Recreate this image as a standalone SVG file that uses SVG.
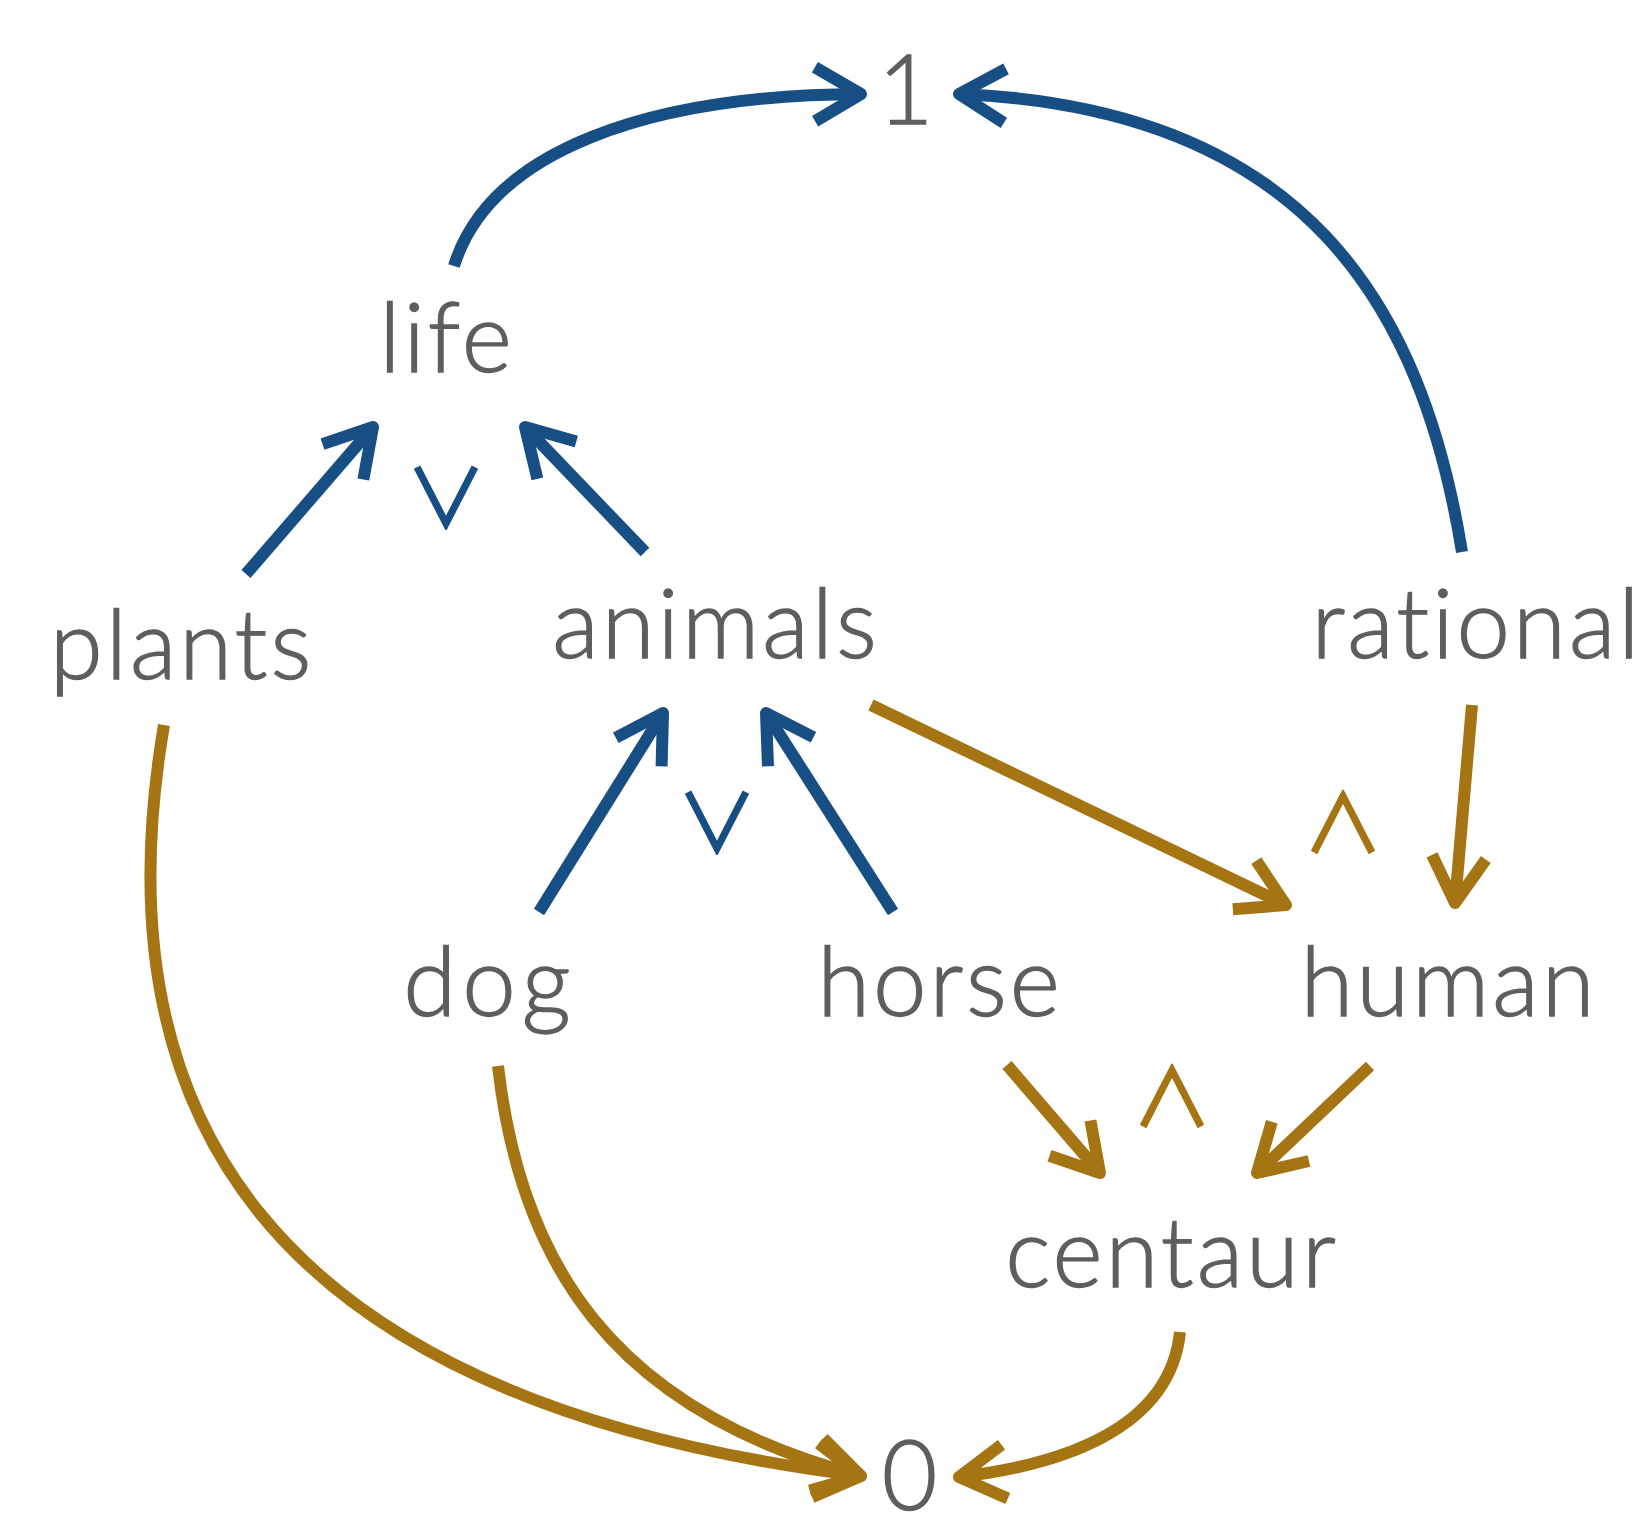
<svg xmlns="http://www.w3.org/2000/svg" width="1643" height="1514" viewBox="0 0 1643 1514">
<style>
.lbl{font-family:Lato,"Open Sans","Liberation Sans",sans-serif;font-size:96px;font-weight:300;fill:#5e5e5e;stroke:#5e5e5e;stroke-width:1.3px;text-anchor:middle;letter-spacing:3px}
.op{font-family:"Noto Sans CJK JP","DejaVu Sans",sans-serif;font-size:80px;text-anchor:middle;font-weight:400;stroke-width:1.8px}
.ob{fill:#174f85;stroke:#174f85}
.og{fill:#a57514;stroke:#a57514}
.b{stroke:#174f85;fill:none;stroke-width:12}
.g{stroke:#a57514;fill:none;stroke-width:12}
</style>
<defs>
<marker id="mb" markerUnits="userSpaceOnUse" orient="auto" overflow="visible" markerWidth="1" markerHeight="1">
<path d="M -46 -27 L 0 0 L -46 27" fill="none" stroke="#174f85" stroke-width="12" stroke-linejoin="round"/>
</marker>
<marker id="mg" markerUnits="userSpaceOnUse" orient="auto" overflow="visible" markerWidth="1" markerHeight="1">
<path d="M -46 -27 L 0 0 L -46 27" fill="none" stroke="#a57514" stroke-width="12" stroke-linejoin="round"/>
</marker>
</defs>
<rect width="1643" height="1514" fill="#ffffff"/>
<g id="connectors">
<path class="b" marker-end="url(#mb)" d="M 454 266 C 490 150, 650 95, 861 94"/>
<path class="b" marker-end="url(#mb)" d="M 1462 552 C 1422 305, 1305 108, 959 94"/>
<path class="b" marker-end="url(#mb)" d="M 246 574 L 373 427"/>
<path class="b" marker-end="url(#mb)" d="M 645 552 L 525 427"/>
<path class="b" marker-end="url(#mb)" d="M 539 912 L 663 713"/>
<path class="b" marker-end="url(#mb)" d="M 893 912 L 766 713"/>
<path class="g" marker-end="url(#mg)" d="M 871 705 L 1286 905"/>
<path class="g" marker-end="url(#mg)" d="M 1472 705 L 1455 903"/>
<path class="g" marker-end="url(#mg)" d="M 1007 1065 L 1100 1173"/>
<path class="g" marker-end="url(#mg)" d="M 1370 1066 L 1257 1173"/>
<path class="g" marker-end="url(#mg)" d="M 1180 1332 C 1170 1430, 1060 1465, 959 1477"/>
<path class="g" marker-end="url(#mg)" d="M 164 725 C 100 1100, 250 1400, 861 1476"/>
<path class="g" marker-end="url(#mg)" d="M 498 1066 C 520 1260, 610 1410, 861 1476"/>
</g>
<g id="node-1"><text class="lbl" x="907" y="124">1</text></g>
<g id="node-life"><text class="lbl" x="447" y="372">life</text></g>
<g id="node-plants"><text class="lbl" x="182" y="679">plants</text></g>
<g id="node-animals"><text class="lbl" x="716" y="658">animals</text></g>
<g id="node-rational"><text class="lbl" x="1477" y="658">rational</text></g>
<g id="node-dog"><text class="lbl" x="490" y="1016" style="letter-spacing:6px">dog</text></g>
<g id="node-horse"><text class="lbl" x="940" y="1016">horse</text></g>
<g id="node-human"><text class="lbl" x="1449" y="1016">human</text></g>
<g id="node-centaur"><text class="lbl" x="1172" y="1287">centaur</text></g>
<g id="node-0"><text class="lbl" x="911" y="1510">0</text></g>
<g id="operators">
<text class="op ob" x="446" y="527">∨</text>
<text class="op ob" x="717" y="852">∨</text>
<text class="op og" x="1343" y="852">∧</text>
<text class="op og" x="1172" y="1126">∧</text>
</g>
</svg>
